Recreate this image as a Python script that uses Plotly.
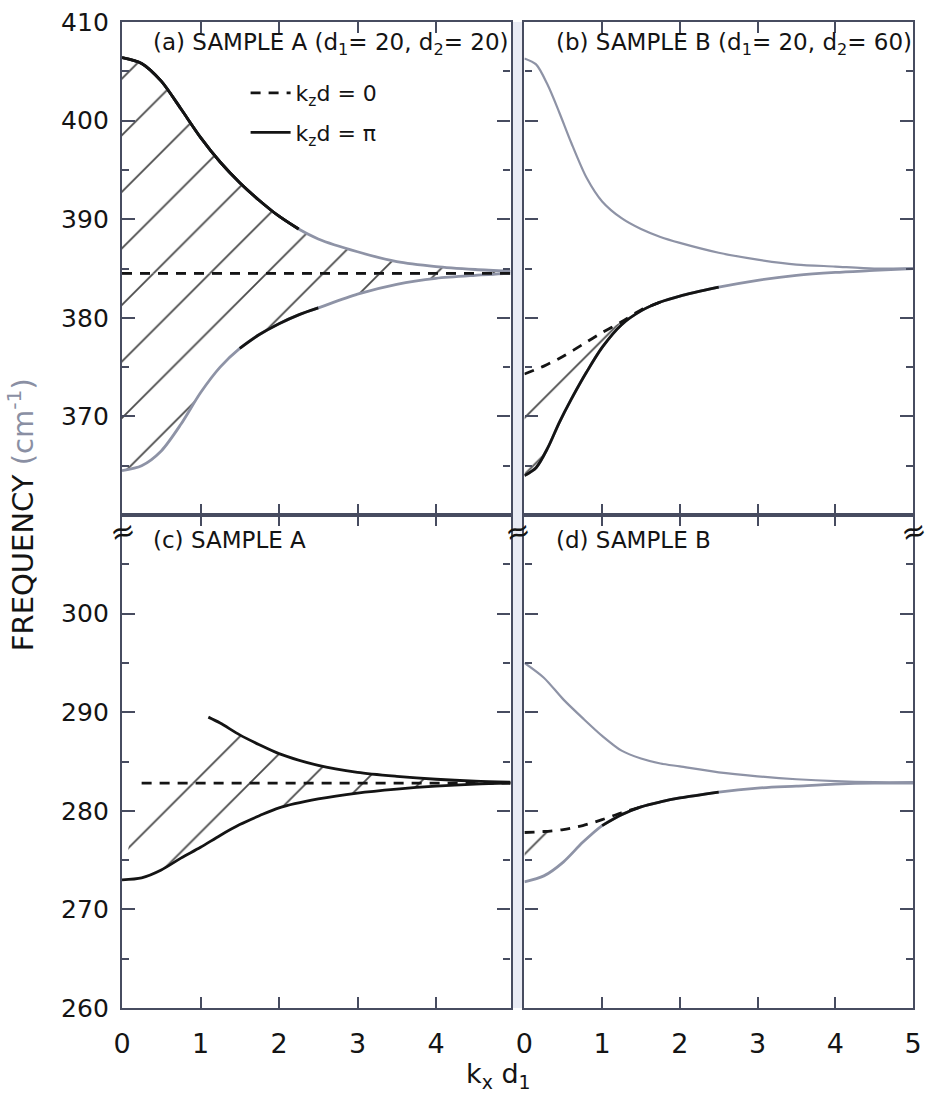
import numpy as np
import plotly.graph_objects as go

# ---------------------------------------------------------------------------
# Dispersion of interface optical phonons, k_x d_1 on the abscissa
# ---------------------------------------------------------------------------

# (a) sample A, upper band (d1 = 20, d2 = 20)
a_x = [0, 0.25, 0.5, 0.75, 1.0, 1.25, 1.5, 1.75, 2.0, 2.25, 2.5, 3.0, 3.5, 4.0, 4.5, 4.95]
a_upper = [406.4, 405.8, 404.0, 401.2, 398.3, 395.8, 393.7, 391.9, 390.3, 389.0, 388.0,
           386.7, 385.7, 385.2, 384.9, 384.7]
a_lower = [364.5, 365.0, 366.5, 369.2, 372.4, 375.0, 376.9, 378.3, 379.4, 380.3, 381.0,
           382.4, 383.4, 384.0, 384.3, 384.5]
a_dash_x = [0.0, 4.95]
a_dash = [384.5, 384.5]

# (b) sample B, upper band (d1 = 20, d2 = 60)
b_x = [0, 0.15, 0.3, 0.45, 0.6, 0.8, 1.0, 1.25, 1.5, 1.75, 2.0, 2.5, 3.0, 3.5, 4.0, 4.5, 5.0]
b_upper = [406.3, 405.7, 403.6, 400.8, 397.8, 394.2, 391.8, 390.1, 389.0, 388.2, 387.6,
           386.6, 385.9, 385.4, 385.2, 385.0, 385.0]
b_lower = [364.0, 364.8, 366.8, 369.4, 371.7, 374.5, 377.0, 379.3, 380.7, 381.6, 382.2,
           383.1, 383.8, 384.3, 384.6, 384.8, 385.0]
b_dash_x = [0, 0.25, 0.5, 0.75, 1.0, 1.25, 1.5, 1.75]
b_dash = [374.3, 375.1, 376.1, 377.3, 378.5, 379.6, 380.8, 381.6]

# (c) sample A, lower band
c_up_x = [1.1, 1.25, 1.5, 1.75, 2.0, 2.5, 3.0, 3.5, 4.0, 4.5, 4.95]
c_upper = [289.5, 288.9, 287.7, 286.7, 285.8, 284.6, 283.9, 283.5, 283.2, 283.0, 282.9]
c_x = [0, 0.25, 0.5, 0.75, 1.0, 1.25, 1.5, 1.75, 2.0, 2.5, 3.0, 3.5, 4.0, 4.5, 4.95]
c_lower = [273.0, 273.2, 274.0, 275.2, 276.3, 277.5, 278.6, 279.5, 280.3, 281.2, 281.8,
           282.2, 282.5, 282.7, 282.8]
c_dash_x = [0.25, 4.95]
c_dash = [282.8, 282.8]

# (d) sample B, lower band
d_x = [0, 0.25, 0.5, 0.75, 1.0, 1.25, 1.5, 1.75, 2.0, 2.5, 3.0, 3.5, 4.0, 4.5, 5.0]
d_upper = [295.0, 293.5, 291.3, 289.4, 287.6, 286.1, 285.3, 284.8, 284.5, 283.9, 283.5,
           283.2, 283.0, 282.9, 282.9]
d_lower = [272.8, 273.4, 274.8, 276.8, 278.5, 279.6, 280.4, 280.9, 281.3, 281.9, 282.3,
           282.5, 282.7, 282.8, 282.8]
d_dash_x = [0, 0.25, 0.5, 0.75, 1.0, 1.25, 1.5]
d_dash = [277.8, 277.9, 278.1, 278.5, 279.1, 279.8, 280.4]

# axis ticks
x_ticks_left = [0, 1, 2, 3, 4]
x_ticks_right = [0, 1, 2, 3, 4, 5]
y_ticks_top = [370, 380, 390, 400, 410]
y_ticks_bottom = [260, 270, 280, 290, 300]

# ---------------------------------------------------------------------------
INK = "#141414"
FADE = "#8e93a6"
AXIS = "#474c60"
FONT = "DejaVu Sans, Verdana, sans-serif"

W, H = 930, 1099
ML, MR, MT, MB = 122, 8, 22, 91
PW = W - ML - MR
PH = H - MT - MB
left_dom = [0.0, (515 - ML) / PW]
right_dom = [(529 - ML) / PW, 1.0]
top_dom = [0.5, 1.0]
bot_dom = [0.0, 0.5]

fig = go.Figure()

AX = {"a": ("x", "y"), "b": ("x2", "y2"), "c": ("x3", "y3"), "d": ("x4", "y4")}


def curve(panel, x, y, color=INK, dash="solid", width=2.8, name=None, rank=None):
    xa, ya = AX[panel]
    fig.add_trace(go.Scatter(
        x=x, y=y, xaxis=xa, yaxis=ya, mode="lines",
        line=dict(color=color, width=width, dash=dash, shape="spline", smoothing=0.8),
        name=name or "", showlegend=name is not None,
        legendgroup=name, legendrank=rank or 1000, hoverinfo="skip"))


def segment(panel, x, y, lo, hi, color=INK, dash="solid"):
    xs = np.asarray(x, dtype=float)
    keep = (xs >= lo) & (xs <= hi)
    curve(panel, xs[keep], np.asarray(y)[keep], color=color, dash=dash)


def hatch(panel, x1, y1, x2, y2):
    """Diagonal hatching in the band enclosed by two dispersion curves."""
    xa, ya = AX[panel]
    px = list(x1) + list(x2)[::-1]
    py = list(y1) + list(y2)[::-1]
    fig.add_trace(go.Scatter(
        x=px, y=py, xaxis=xa, yaxis=ya, mode="lines", fill="toself",
        fillcolor="rgba(0,0,0,0)", line=dict(width=0),
        fillpattern=dict(shape="/", size=40, solidity=0.045, fgcolor="#1c1c1c", fgopacity=0.8),
        showlegend=False, hoverinfo="skip"))


DASH = "10px,8px"

# (a)
hatch("a", a_x, a_upper, a_dash_x, a_dash)
hatch("a", a_x, a_lower, a_dash_x, a_dash)
curve("a", a_x, a_upper, color=FADE)
segment("a", a_x, a_upper, 0, 2.25)
curve("a", a_x, a_lower, color=FADE)
segment("a", a_x, a_lower, 1.5, 2.5)
curve("a", a_dash_x, a_dash, color=FADE, dash=DASH)

# (b)
b_keep = np.asarray(b_x) <= max(b_dash_x)
hatch("b", b_dash_x, b_dash, np.asarray(b_x)[b_keep], np.asarray(b_lower)[b_keep])
curve("b", b_x, b_upper, color=FADE, width=2.2)
curve("b", b_x, b_lower, color=FADE)
segment("b", b_x, b_lower, 0, 2.5)
curve("b", b_dash_x, b_dash, dash=DASH)

# (c)
hatch("c", c_up_x, c_upper, c_dash_x, c_dash)
hatch("c", c_x, c_lower, c_dash_x, c_dash)
curve("c", c_up_x, c_upper)
curve("c", c_x, c_lower)
curve("c", c_dash_x, c_dash, dash=DASH)

# (d)
d_keep = np.asarray(d_x) <= max(d_dash_x)
hatch("d", d_dash_x, d_dash, np.asarray(d_x)[d_keep], np.asarray(d_lower)[d_keep])
curve("d", d_x, d_upper, color=FADE, width=2.2)
curve("d", d_x, d_lower, color=FADE)
segment("d", d_x, d_lower, 1.0, 2.5)
curve("d", d_dash_x, d_dash, dash=DASH)

# legend entries: dark part of the dashed plateau and of the upper branch in (a)
segment("a", a_dash_x, a_dash, 0, 4.95, dash=DASH)
fig.data[-1].update(name="k<sub>z</sub>d = 0", showlegend=True, legendgroup="g0", legendrank=1)
fig.add_trace(go.Scatter(x=a_x[:10], y=a_upper[:10], xaxis="x", yaxis="y", mode="lines",
                         line=dict(color=INK, width=2.8, shape="spline", smoothing=0.8),
                         name="k<sub>z</sub>d = π", legendgroup="g1", legendrank=2,
                         hoverinfo="skip"))


# ---------------------------------------------------------------------------
def xaxis(dom, rng, ticks, anchor, labels):
    return dict(domain=dom, range=rng, anchor=anchor, tickvals=ticks,
                showticklabels=labels, ticks="inside", ticklen=11, tickwidth=2,
                tickcolor=AXIS, showline=True, linecolor=AXIS, linewidth=2.4,
                mirror="allticks", showgrid=False, zeroline=False,
                ticklabelstandoff=10,
                tickfont=dict(family=FONT, size=27, color=INK))


def yaxis(dom, rng, ticks, anchor, labels):
    return dict(domain=dom, range=rng, anchor=anchor, tickvals=ticks,
                showticklabels=labels, ticks="inside", ticklen=13, tickwidth=2,
                tickcolor=AXIS, showline=True, linecolor=AXIS, linewidth=2.4,
                mirror="allticks", showgrid=False, zeroline=False,
                ticklabelstandoff=6,
                minor=dict(ticks="inside", ticklen=7, tickwidth=1.5, dtick=5,
                           tick0=rng[0], tickcolor=AXIS, showgrid=False),
                tickfont=dict(family=FONT, size=25, color=INK))


fig.update_layout(
    width=W, height=H,
    margin=dict(l=ML, r=MR, t=MT, b=MB),
    paper_bgcolor="white", plot_bgcolor="white",
    xaxis=xaxis(left_dom, [0, 4.95], x_ticks_left, "y", False),
    xaxis2=xaxis(right_dom, [0, 5], x_ticks_right, "y2", False),
    xaxis3=xaxis(left_dom, [0, 4.95], x_ticks_left, "y3", True),
    xaxis4=xaxis(right_dom, [0, 5], x_ticks_right, "y4", True),
    yaxis=yaxis(top_dom, [360, 410], y_ticks_top, "x", True),
    yaxis2=yaxis(top_dom, [360, 410], y_ticks_top, "x2", False),
    yaxis3=yaxis(bot_dom, [260, 310], y_ticks_bottom, "x3", True),
    yaxis4=yaxis(bot_dom, [260, 310], y_ticks_bottom, "x4", False),
    showlegend=True,
    legend=dict(x=(247 - ML) / PW, y=(H - MB - 72) / PH, xanchor="left", yanchor="top",
                bgcolor="rgba(0,0,0,0)", tracegroupgap=8, itemwidth=40,
                font=dict(family=FONT, size=22, color=INK)),
)

# light strip in the gutter between the two columns
fig.add_shape(type="rect", xref="paper", yref="paper", x0=left_dom[1] + 0.002,
              x1=right_dom[0] - 0.002, y0=0, y1=1, fillcolor="#e9ebf4", line_width=0,
              layer="below")

# panel captions
caption_font = dict(family=FONT, size=23, color=INK)
captions = [
    ("x", "y", "(a) SAMPLE A (d<sub>1</sub>= 20, d<sub>2</sub>= 20)", 0.99),
    ("x2", "y2", "(b) SAMPLE B (d<sub>1</sub>= 20, d<sub>2</sub>= 60)", 0.99),
    ("x3", "y3", "(c) SAMPLE A", 0.98),
    ("x4", "y4", "(d) SAMPLE B", 0.98),
]
for xa, ya, txt, yy in captions:
    fig.add_annotation(xref=f"{xa} domain", yref=f"{ya} domain", x=0.075, y=yy,
                       xanchor="left", yanchor="top", text=txt, showarrow=False,
                       font=caption_font)

# axis break marks
for xb in (0.0, (left_dom[1] + right_dom[0]) / 2, 1.0):
    fig.add_annotation(xref="paper", yref="paper", x=xb, y=0.5, yshift=-16,
                       xanchor="center", yanchor="middle",
                       text="≈", showarrow=False, textangle=-15,
                       font=dict(family=FONT, size=30, color=INK))

# axis titles
fig.add_annotation(xref="paper", yref="paper", x=(503 - ML) / PW, y=-(1075 - (H - MB)) / PH,
                   xanchor="center", yanchor="middle",
                   text="k<sub>x</sub> d<sub>1</sub>", showarrow=False,
                   font=dict(family=FONT, size=27, color=INK))
fig.add_annotation(xref="paper", yref="paper", x=(20 - ML) / PW, y=0.5, textangle=-90,
                   xanchor="center", yanchor="middle",
                   text="FREQUENCY <span style='color:#8a8fa3'>(cm<sup>-1</sup>)</span>",
                   showarrow=False, font=dict(family=FONT, size=29, color=INK))

fig.write_html("out.html")
